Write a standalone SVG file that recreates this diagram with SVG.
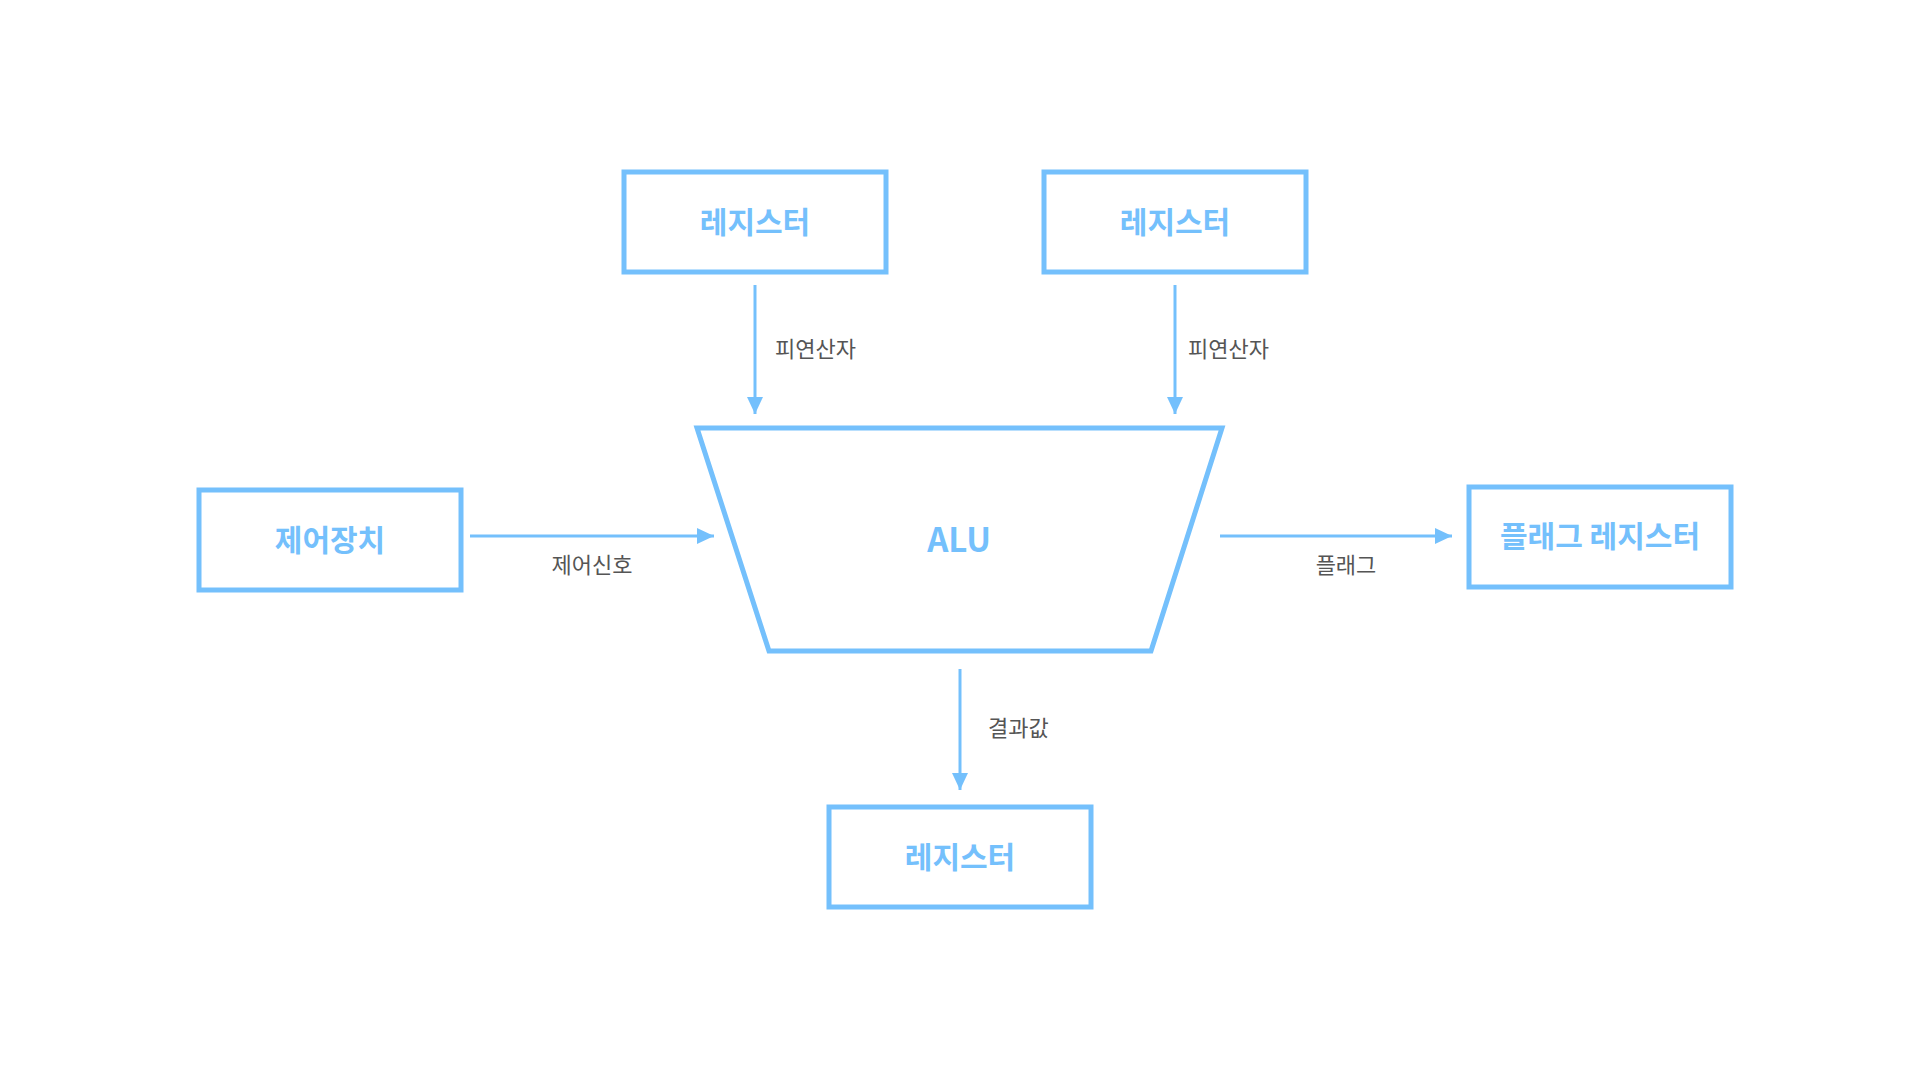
<svg xmlns="http://www.w3.org/2000/svg" width="1920" height="1080" viewBox="0 0 1920 1080">
<style>
.box{fill:#ffffff;stroke:#74c0fc;stroke-width:5}
.ntxt{font-family:"Noto Sans CJK KR","Noto Sans",sans-serif;font-size:30px;font-weight:600;fill:#74c0fc;text-anchor:middle;dominant-baseline:central}
.alu{font-size:33px;font-weight:bold}
.edge{fill:none;stroke:#74c0fc;stroke-width:3}
.lbl{font-family:"Noto Sans CJK KR","Noto Sans",sans-serif;font-size:22px;fill:#555555;dominant-baseline:central}
</style>
<defs>
<marker id="arr" markerUnits="userSpaceOnUse" markerWidth="17" markerHeight="16" refX="17" refY="8" orient="auto">
<path d="M0,0 L17,8 L0,16 z" fill="#74c0fc"/>
</marker>
</defs>
<rect width="1920" height="1080" fill="#ffffff"/>
<g id="connectors">
<path class="edge" d="M755,285 L755,414" marker-end="url(#arr)"/>
<path class="edge" d="M1175,285 L1175,414" marker-end="url(#arr)"/>
<path class="edge" d="M470,536 L714,536" marker-end="url(#arr)"/>
<path class="edge" d="M1220,536 L1452,536" marker-end="url(#arr)"/>
<path class="edge" d="M960,669 L960,790" marker-end="url(#arr)"/>
<text class="lbl" x="775" y="347">피연산자</text>
<text class="lbl" x="1188" y="347">피연산자</text>
<text class="lbl" x="592" y="563" text-anchor="middle">제어신호</text>
<text class="lbl" x="1346" y="563" text-anchor="middle">플래그</text>
<text class="lbl" x="988" y="726">결과값</text>
</g>
<g id="reg1">
<rect class="box" x="624" y="172" width="262" height="100"/>
<text class="ntxt" x="755" y="220">레지스터</text>
</g>
<g id="reg2">
<rect class="box" x="1044" y="172" width="262" height="100"/>
<text class="ntxt" x="1175" y="220">레지스터</text>
</g>
<g id="control">
<rect class="box" x="199" y="490" width="262" height="100"/>
<text class="ntxt" x="330" y="538">제어장치</text>
</g>
<g id="alu">
<polygon class="box" points="697,428 1222,428 1151,651 769,651"/>
<text class="ntxt alu" x="959" y="538">ALU</text>
</g>
<g id="flagreg">
<rect class="box" x="1469" y="487" width="262" height="100"/>
<text class="ntxt" x="1600" y="534">플래그 레지스터</text>
</g>
<g id="reg3">
<rect class="box" x="829" y="807" width="262" height="100"/>
<text class="ntxt" x="960" y="855">레지스터</text>
</g>
</svg>
